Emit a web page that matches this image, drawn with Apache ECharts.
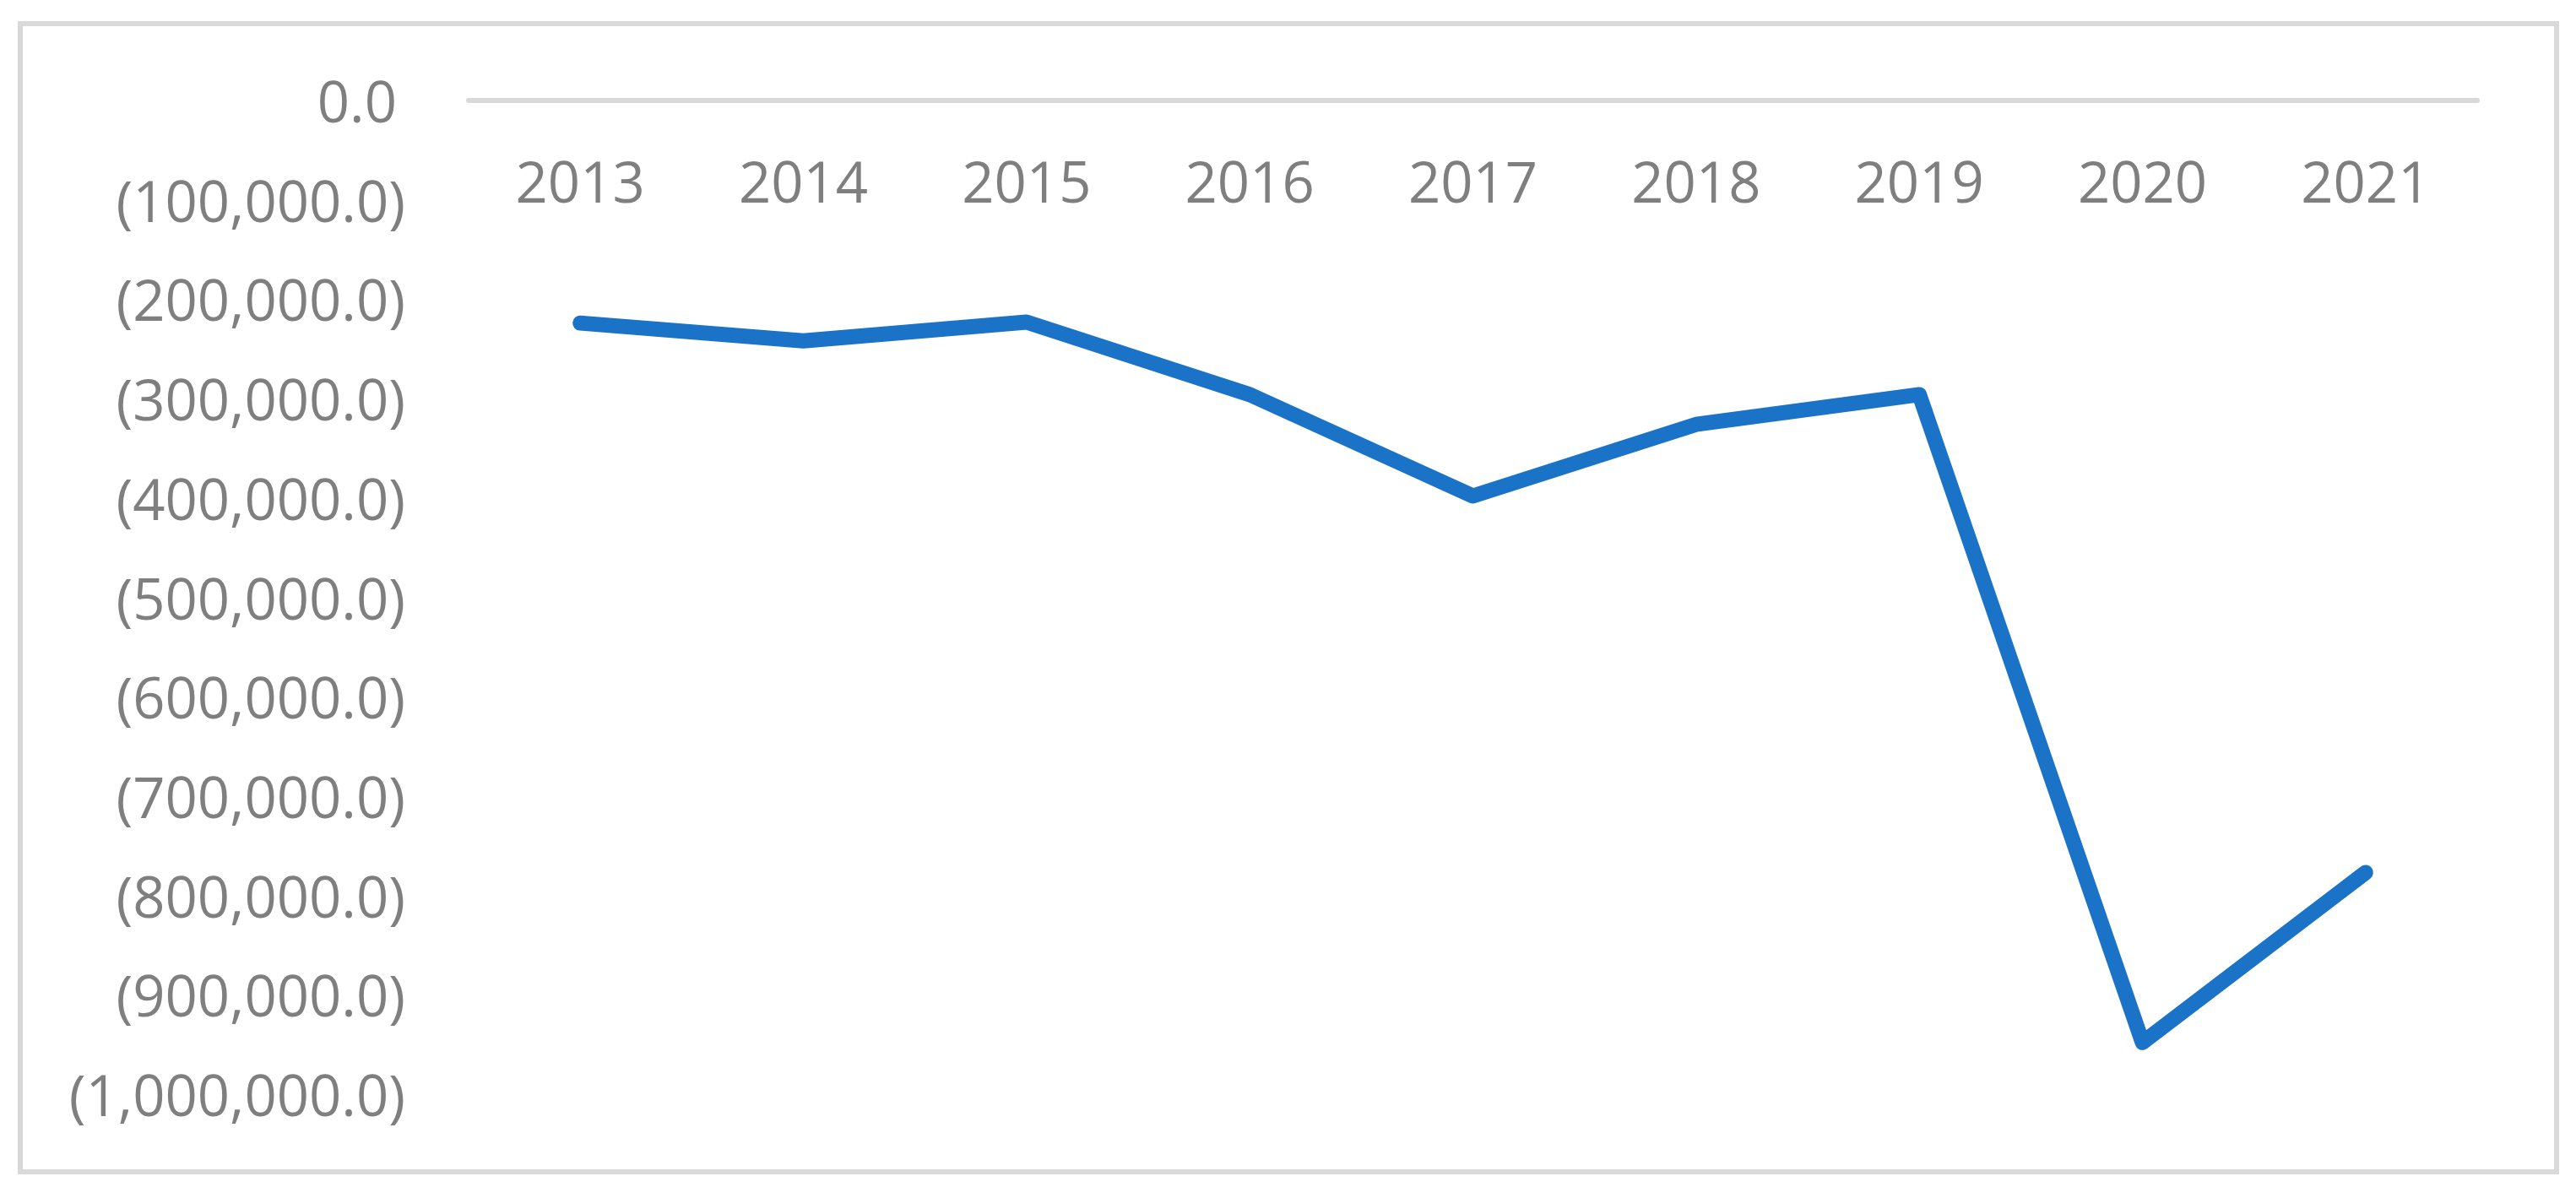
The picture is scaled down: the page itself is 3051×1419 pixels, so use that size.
<!DOCTYPE html>
<html>
<head>
<meta charset="utf-8">
<script src="https://cdn.jsdelivr.net/npm/echarts@6/dist/echarts.min.js"></script>
<style>
html,body{margin:0;padding:0;background:#fff;}
#chart{width:3051px;height:1419px;}
</style>
</head>
<body>
<div id="chart"></div>
<script>
const years = ['2013','2014','2015','2016','2017','2018','2019','2020','2021'];
const values = [-224000,-242000,-223000,-296000,-398000,-326000,-296000,-948000,-777000];
const yMin = -1000000;
const yMax = 0;
const yStep = 100000;

const font = 'Open Sans';
const grey = '#7f7f7f';

function fmt(v){
  if (v === 0) return '{z|0.0}';
  return '{n|(' + Math.abs(v).toLocaleString('en-US',{minimumFractionDigits:1,maximumFractionDigits:1}) + ')}';
}

const chart = echarts.init(document.getElementById('chart'), null, {renderer:'canvas'});
chart.setOption({
  animation:false,
  backgroundColor:'#ffffff',
  graphic:[{
    type:'rect',
    shape:{x:24,y:28,width:3004,height:1360},
    style:{fill:'none',stroke:'#d9d9d9',lineWidth:6},
    silent:true
  }],
  grid:{left:555,right:117,top:119,bottom:123,containLabel:false},
  xAxis:{
    type:'category',
    position:'top',
    data:years,
    boundaryGap:true,
    axisLine:{show:true,onZero:false,lineStyle:{color:'#d9d9d9',width:6}},
    axisTick:{show:false},
    splitLine:{show:false},
    axisLabel:{inside:true,color:grey,fontFamily:font,fontSize:67,lineHeight:67,margin:68}
  },
  yAxis:{
    type:'value',
    min:yMin,max:yMax,interval:yStep,
    axisLine:{show:false},
    axisTick:{show:false},
    splitLine:{show:false},
    axisLabel:{
      color:grey,fontFamily:font,fontSize:67,margin:75,
      formatter:fmt,
      rich:{
        z:{color:grey,fontFamily:font,fontSize:67,padding:[14,10,0,0]},
        n:{color:grey,fontFamily:font,fontSize:67,padding:[14,0,0,0]}
      }
    }
  },
  series:[{
    type:'line',
    data:values,
    symbol:'none',
    lineStyle:{color:'#1a73c7',width:18,cap:'round',join:'round'},
    itemStyle:{color:'#1a73c7'}
  }]
});
</script>
</body>
</html>
